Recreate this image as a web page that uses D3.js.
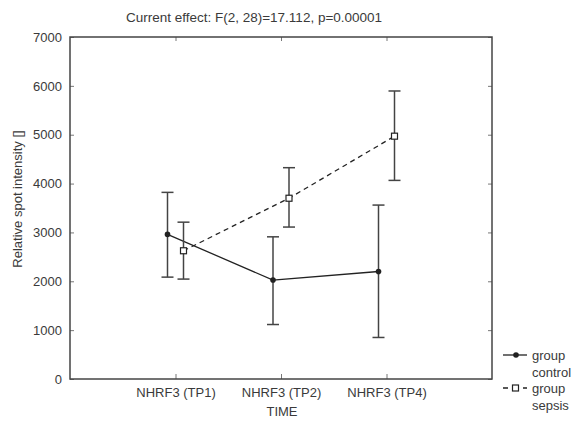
<!DOCTYPE html>
<html>
<head>
<meta charset="utf-8">
<script src="https://cdn.jsdelivr.net/npm/d3@7"></script>
<style>
  body { margin: 0; background: #fff; }
  svg { display: block; font-family: "Liberation Sans", Arial, sans-serif; }
</style>
</head>
<body>
<script>
"use strict";

var categories = ["NHRF3 (TP1)", "NHRF3 (TP2)", "NHRF3 (TP4)"];
var yTicks = [0, 1000, 2000, 3000, 4000, 5000, 6000, 7000];

var controlMean = [2960, 2025, 2200];
var controlLow = [2085, 1115, 850];
var controlHigh = [3820, 2910, 3560];

var sepsisMean = [2625, 3700, 4970];
var sepsisLow = [2045, 3110, 4065];
var sepsisHigh = [3210, 4325, 5895];

(function () {
  var width = 572, height = 421,
    left = 70, right = 492, top = 37, bottom = 379,
    ink = "#3a3a3a", fs = 13;

  var svg = d3.select("body").append("svg")
    .attr("width", width)
    .attr("height", height);

  var x = d3.scaleLinear().domain([0, categories.length + 1]).range([left, right]);
  var y = d3.scaleLinear().domain([0, 7000]).range([bottom, top]);

  var groups = [
    { name: "control", off: -8, mean: controlMean, lo: controlLow, hi: controlHigh, dash: null },
    { name: "sepsis", off: 8, mean: sepsisMean, lo: sepsisLow, hi: sepsisHigh, dash: "5,4" }
  ];

  // title
  svg.append("text")
    .attr("x", 254).attr("y", 22)
    .attr("text-anchor", "middle")
    .attr("font-size", 13.5)
    .attr("fill", ink)
    .text("Current effect: F(2, 28)=17.112, p=0.00001");

  // axes
  var yAxis = d3.axisLeft(y).tickValues(yTicks).tickSize(-4).tickPadding(8).tickFormat(d3.format("d"));
  var gy = svg.append("g").attr("transform", "translate(" + left + ",0)").call(yAxis);
  gy.selectAll("text").attr("font-size", fs).attr("fill", ink);

  var yRight = d3.axisRight(y).tickValues(yTicks).tickSize(-4).tickFormat("");
  svg.append("g").attr("transform", "translate(" + right + ",0)").call(yRight);

  var catIdx = categories.map(function (c, i) { return i + 1; });
  var xAxis = d3.axisBottom(x).tickValues(catIdx).tickSize(-5).tickPadding(9)
    .tickFormat(function (d) { return categories[d - 1]; });
  var gx = svg.append("g").attr("transform", "translate(0," + bottom + ")").call(xAxis);
  gx.selectAll("text").attr("font-size", fs).attr("fill", ink);

  var xTop = d3.axisTop(x).tickValues(catIdx).tickSize(-4).tickFormat("");
  svg.append("g").attr("transform", "translate(0," + top + ")").call(xTop);

  svg.selectAll(".domain").remove();
  svg.selectAll(".tick line").attr("stroke", "#777");

  // frame
  svg.append("rect")
    .attr("x", left).attr("y", top)
    .attr("width", right - left).attr("height", bottom - top)
    .attr("fill", "none").attr("stroke", "#444").attr("stroke-width", 1.5);

  // axis titles
  svg.append("text")
    .attr("transform", "translate(22,199) rotate(-90)")
    .attr("text-anchor", "middle")
    .attr("font-size", fs)
    .attr("fill", ink)
    .text("Relative spot intensity []");

  svg.append("text")
    .attr("x", 282).attr("y", 416)
    .attr("text-anchor", "middle")
    .attr("font-size", fs)
    .attr("fill", ink)
    .text("TIME");

  // series
  groups.forEach(function (g) {
    var pts = g.mean.map(function (m, i) {
      return { cx: x(i + 1) + g.off, m: m, lo: g.lo[i], hi: g.hi[i] };
    });
    var layer = svg.append("g");

    var line = d3.line().x(function (d) { return d.cx; }).y(function (d) { return y(d.m); });
    layer.append("path")
      .attr("d", line(pts))
      .attr("fill", "none")
      .attr("stroke", "#222")
      .attr("stroke-width", 1.3)
      .attr("stroke-dasharray", g.dash);

    var eb = layer.selectAll("g.eb").data(pts).enter().append("g").attr("class", "eb")
      .attr("stroke", "#444").attr("stroke-width", 1.5);
    eb.append("line")
      .attr("x1", function (d) { return d.cx; }).attr("x2", function (d) { return d.cx; })
      .attr("y1", function (d) { return y(d.lo); }).attr("y2", function (d) { return y(d.hi); });
    eb.append("line")
      .attr("x1", function (d) { return d.cx - 6; }).attr("x2", function (d) { return d.cx + 6; })
      .attr("y1", function (d) { return y(d.hi); }).attr("y2", function (d) { return y(d.hi); });
    eb.append("line")
      .attr("x1", function (d) { return d.cx - 6; }).attr("x2", function (d) { return d.cx + 6; })
      .attr("y1", function (d) { return y(d.lo); }).attr("y2", function (d) { return y(d.lo); });

    if (g.name === "control") {
      layer.selectAll("circle").data(pts).enter().append("circle")
        .attr("cx", function (d) { return d.cx; })
        .attr("cy", function (d) { return y(d.m); })
        .attr("r", 2.8).attr("fill", "#222");
    } else {
      layer.selectAll("rect").data(pts).enter().append("rect")
        .attr("x", function (d) { return d.cx - 3; })
        .attr("y", function (d) { return y(d.m) - 3; })
        .attr("width", 6).attr("height", 6)
        .attr("fill", "#fff").attr("stroke", "#222").attr("stroke-width", 1.2);
    }
  });

  // legend
  var leg = svg.append("g").attr("font-size", fs).attr("fill", ink);
  leg.append("line").attr("x1", 503).attr("x2", 527).attr("y1", 355).attr("y2", 355)
    .attr("stroke", "#222").attr("stroke-width", 1.3);
  leg.append("circle").attr("cx", 516).attr("cy", 355).attr("r", 2.8).attr("fill", "#222");
  leg.append("text").attr("x", 532).attr("y", 359.5).text("group");
  leg.append("text").attr("x", 532).attr("y", 376.5).text("control");

  leg.append("line").attr("x1", 503).attr("x2", 527).attr("y1", 388).attr("y2", 388)
    .attr("stroke", "#222").attr("stroke-width", 1.3).attr("stroke-dasharray", "5,4,7,4,5");
  leg.append("rect").attr("x", 512.5).attr("y", 385).attr("width", 6).attr("height", 6)
    .attr("fill", "#fff").attr("stroke", "#222").attr("stroke-width", 1.2);
  leg.append("text").attr("x", 532).attr("y", 392.5).text("group");
  leg.append("text").attr("x", 532).attr("y", 409.5).text("sepsis");
}());
</script>
</body>
</html>
